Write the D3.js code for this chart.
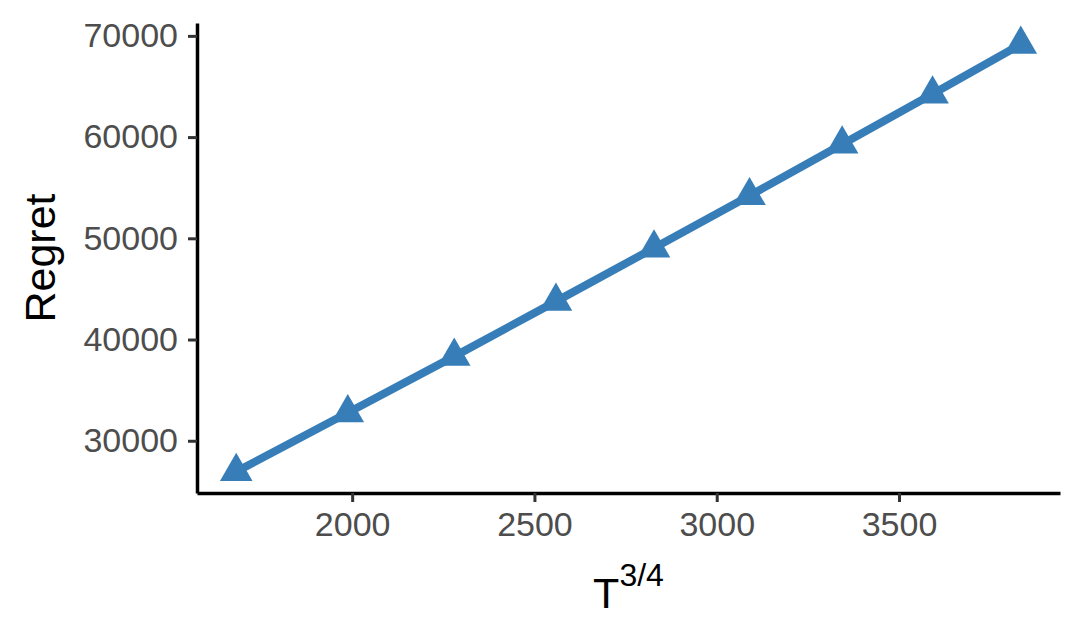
<!DOCTYPE html>
<html lang="en">
  <head>
    <meta charset="UTF-8" />
    <title>Regret</title>
    <style>
      body { margin: 0; background: #fff; }
      text { font-family: 'Liberation Sans', Arial, sans-serif; }
    </style>
  </head>
  <body>
    <script src="https://d3js.org/d3.v7.min.js"></script>
    <script>
      const tPow = [1682, 1988, 2280, 2559, 2828, 3090, 3344, 3592, 3834]
      const regret = [26950, 32770, 38340, 43770, 49040, 54210, 59300, 64250, 69160]
      const xTicks = [2000, 2500, 3000, 3500]
      const yTicks = [30000, 40000, 50000, 60000, 70000]

      const width = 1084
      const height = 640
      const panel = { left: 197, right: 1060, top: 23, bottom: 493 }
      const blue = '#377eb8'

      const svg = d3.select('body').append('svg')
        .attr('width', width).attr('height', height)

      // ggplot style 5% expansion
      const expand = ext => {
        const pad = (ext[1] - ext[0]) * 0.05
        return [ext[0] - pad, ext[1] + pad]
      }

      const x = d3.scaleLinear()
        .domain(expand(d3.extent(tPow)))
        .range([panel.left, panel.right])

      const y = d3.scaleLinear()
        .domain(expand(d3.extent(regret)))
        .range([panel.bottom, panel.top])

      const styleAxis = g => g
        .call(g => g.select('.domain').attr('stroke', '#000').attr('stroke-width', 3.5))
        .call(g => g.selectAll('.tick line').attr('stroke', '#333').attr('stroke-width', 3))
        .call(g => g.selectAll('.tick text').attr('fill', '#4d4d4d').attr('font-size', 34))

      const xAxis = g => g
        .attr('transform', `translate(0,${panel.bottom})`)
        .call(d3.axisBottom(x).tickValues(xTicks).tickFormat(d3.format('d')).tickSize(9).tickPadding(10).tickSizeOuter(0))
        .call(styleAxis)

      const yAxis = g => g
        .attr('transform', `translate(${panel.left},0)`)
        .call(d3.axisLeft(y).tickValues(yTicks).tickFormat(d3.format('d')).tickSize(9).tickPadding(10).tickSizeOuter(0))
        .call(styleAxis)

      const data = tPow.map((d, i) => ({ x: d, y: regret[i] }))

      svg.append('path')
        .datum(data)
        .attr('fill', 'none')
        .attr('stroke', blue)
        .attr('stroke-width', 8)
        .attr('d', d3.line().x(d => x(d.x)).y(d => y(d.y)))

      svg.selectAll('.pt')
        .data(data)
        .enter()
        .append('path')
        .attr('class', 'pt')
        .attr('fill', blue)
        .attr('transform', d => `translate(${x(d.x)},${y(d.y)})`)
        .attr('d', d3.symbol().type(d3.symbolTriangle).size(460))

      svg.append('g').call(xAxis)
      svg.append('g').call(yAxis)

      const xTitle = svg.append('text')
        .attr('x', (panel.left + panel.right) / 2)
        .attr('y', 608)
        .attr('text-anchor', 'middle')
        .attr('font-size', 43)
        .attr('fill', '#000')
      xTitle.append('tspan').text('T')
      xTitle.append('tspan').attr('font-size', 32).attr('dy', -22).text('3/4')

      svg.append('text')
        .attr('transform', `translate(55,${(panel.top + panel.bottom) / 2}) rotate(-90)`)
        .attr('text-anchor', 'middle')
        .attr('font-size', 43)
        .attr('fill', '#000')
        .text('Regret')
    </script>
  </body>
</html>
